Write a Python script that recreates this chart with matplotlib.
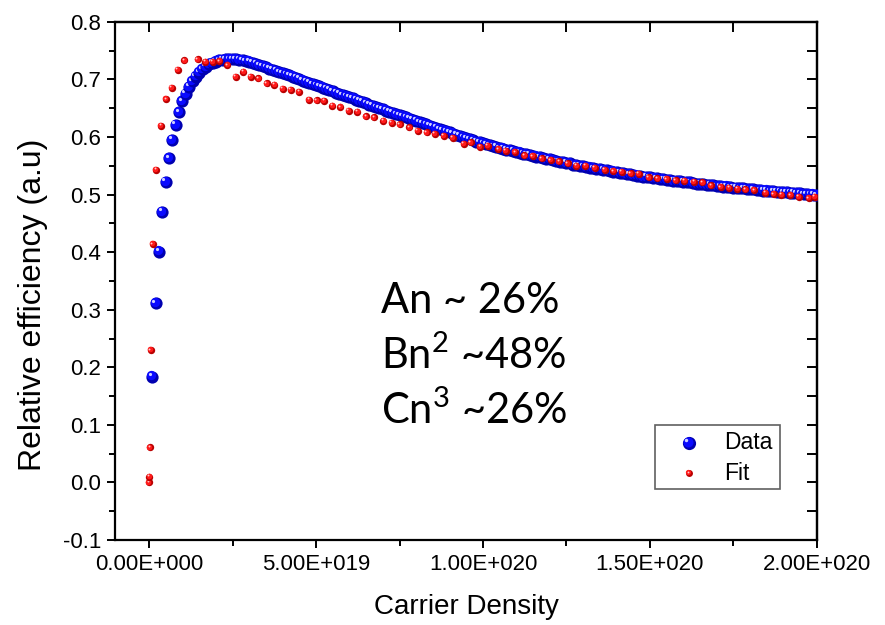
import numpy as np
import matplotlib
matplotlib.use("Agg")
import matplotlib.pyplot as plt
from matplotlib.ticker import FixedLocator, FixedFormatter, MultipleLocator, NullFormatter
from matplotlib.transforms import offset_copy
from matplotlib.patches import Rectangle

plt.rcParams["font.family"] = ["Liberation Sans", "DejaVu Sans"]
plt.rcParams["axes.unicode_minus"] = False
plt.rcParams["mathtext.fontset"] = "custom"
plt.rcParams["mathtext.rm"] = "Lato"
plt.rcParams["mathtext.default"] = "regular"

# measured efficiency, sampled every 1e18 cm^-3 from 1e18 to 2e20
data_x = np.arange(1, 201) * 1e18
data_y = [
    0.184, 0.311, 0.401, 0.470, 0.522, 0.563, 0.595, 0.621, 0.643, 0.662,
    0.675, 0.687, 0.697, 0.705, 0.712, 0.718, 0.722, 0.726, 0.729, 0.731,
    0.733, 0.734, 0.735, 0.735, 0.735, 0.735, 0.734, 0.733, 0.732, 0.731,
    0.729, 0.727, 0.725, 0.723, 0.721, 0.719, 0.717, 0.715, 0.713, 0.711,
    0.709, 0.707, 0.705, 0.703, 0.701, 0.698, 0.696, 0.694, 0.692, 0.690,
    0.688, 0.686, 0.684, 0.682, 0.680, 0.677, 0.675, 0.673, 0.671, 0.669,
    0.667, 0.665, 0.663, 0.661, 0.659, 0.656, 0.654, 0.652, 0.650, 0.648,
    0.646, 0.644, 0.642, 0.640, 0.638, 0.636, 0.634, 0.632, 0.630, 0.628,
    0.626, 0.624, 0.622, 0.620, 0.618, 0.616, 0.614, 0.612, 0.610, 0.608,
    0.606, 0.604, 0.602, 0.600, 0.598, 0.596, 0.594, 0.592, 0.591, 0.589,
    0.587, 0.586, 0.584, 0.583, 0.581, 0.580, 0.578, 0.577, 0.576, 0.574,
    0.573, 0.571, 0.570, 0.569, 0.567, 0.566, 0.565, 0.563, 0.562, 0.561,
    0.560, 0.558, 0.557, 0.556, 0.555, 0.554, 0.552, 0.551, 0.550, 0.549,
    0.548, 0.547, 0.546, 0.545, 0.544, 0.543, 0.542, 0.541, 0.540, 0.539,
    0.538, 0.537, 0.536, 0.535, 0.534, 0.533, 0.532, 0.531, 0.531, 0.530,
    0.529, 0.528, 0.527, 0.527, 0.526, 0.525, 0.524, 0.524, 0.523, 0.522,
    0.521, 0.521, 0.520, 0.519, 0.519, 0.518, 0.517, 0.517, 0.516, 0.515,
    0.515, 0.514, 0.514, 0.513, 0.512, 0.512, 0.511, 0.511, 0.510, 0.509,
    0.509, 0.508, 0.508, 0.507, 0.507, 0.506, 0.506, 0.505, 0.505, 0.504,
    0.504, 0.503, 0.503, 0.502, 0.502, 0.501, 0.501, 0.500, 0.500, 0.499,
]

# ABC model fit, density in units of 1e19
fit_x = [
    0.00, 0.01, 0.03, 0.05, 0.11, 0.21, 0.36, 0.51, 0.68, 0.86,
    1.06, 1.46, 1.68, 1.90, 2.10, 2.34, 2.60, 2.82, 3.05, 3.27,
    3.52, 3.75, 4.00, 4.24, 4.49, 4.79, 5.02, 5.24, 5.49, 5.73,
    5.98, 6.24, 6.50, 6.74, 7.02, 7.27, 7.51, 7.79, 8.04, 8.31,
    8.56, 8.83, 9.09, 9.43, 9.63, 9.91, 10.14, 10.46, 10.68, 10.96,
    11.24, 11.49, 11.76, 12.03, 12.28, 12.54, 12.80, 13.07, 13.35, 13.65,
    13.90, 14.15, 14.42, 14.67, 14.97, 15.22, 15.50, 15.78, 16.03, 16.32,
    16.57, 16.83, 17.12, 17.37, 17.62, 17.86, 18.12, 18.46, 18.71, 18.94,
    19.21, 19.46, 19.76, 19.94,
]
fit_y = [
    0.000, 0.010, 0.061, 0.230, 0.414, 0.543, 0.620, 0.666, 0.686, 0.717,
    0.733, 0.735, 0.731, 0.731, 0.732, 0.725, 0.705, 0.713, 0.705, 0.702,
    0.693, 0.691, 0.684, 0.682, 0.679, 0.665, 0.664, 0.663, 0.654, 0.652,
    0.646, 0.644, 0.636, 0.634, 0.628, 0.625, 0.622, 0.617, 0.611, 0.608,
    0.606, 0.602, 0.599, 0.588, 0.591, 0.583, 0.585, 0.579, 0.576, 0.574,
    0.568, 0.567, 0.563, 0.560, 0.558, 0.554, 0.550, 0.550, 0.547, 0.543,
    0.541, 0.540, 0.537, 0.536, 0.530, 0.528, 0.527, 0.525, 0.524, 0.522,
    0.521, 0.516, 0.513, 0.512, 0.510, 0.509, 0.508, 0.503, 0.501, 0.500,
    0.499, 0.496, 0.494, 0.496,
]

x_ticks = [0, 5e19, 1e20, 1.5e20, 2e20]
x_tick_labels = ["0.00E+000", "5.00E+019", "1.00E+020", "1.50E+020", "2.00E+020"]
y_ticks = [-0.1, 0.0, 0.1, 0.2, 0.3, 0.4, 0.5, 0.6, 0.7, 0.8]

notes = ["An ~ 26%", "Bn$^{2}$ ~48%", "Cn$^{3}$ ~26%"]

BLUE = ("#0000b0", "#0a0aff", "#d0d0ff")
RED = ("#b80000", "#ff1a1a", "#ffc8c8")


def spheres(ax, xs, ys, diam, shades, base_tf, clip=True, z=3):
    """Shaded balls: dark disc, brighter core shifted up-left, small glint."""
    fig = ax.figure
    dark, mid, light = shades
    core_tf = offset_copy(base_tf, fig=fig, x=-0.09 * diam, y=0.09 * diam, units="points")
    glint_tf = offset_copy(base_tf, fig=fig, x=-0.2 * diam, y=0.2 * diam, units="points")
    for x, y in zip(xs, ys):
        ax.scatter([x], [y], s=diam ** 2, color=dark, linewidths=0,
                   transform=base_tf, zorder=z, clip_on=clip)
        ax.scatter([x], [y], s=(0.76 * diam) ** 2, color=mid, linewidths=0,
                   transform=core_tf, zorder=z, clip_on=clip)
        ax.scatter([x], [y], s=(0.26 * diam) ** 2, color=light, linewidths=0,
                   transform=glint_tf, zorder=z, clip_on=clip)


fig = plt.figure(figsize=(8.85, 6.25), dpi=100)
ax = fig.add_axes([0.130, 0.136, 0.793, 0.829])

spheres(ax, data_x, data_y, 8.8, BLUE, ax.transData)
spheres(ax, [v * 1e19 for v in fit_x], fit_y, 5.3, RED, ax.transData)

ax.set_xlim(-1.02e19, 2e20)
ax.set_ylim(-0.1, 0.8)

ax.xaxis.set_major_locator(FixedLocator(x_ticks))
ax.xaxis.set_major_formatter(FixedFormatter(x_tick_labels))
ax.xaxis.set_minor_locator(MultipleLocator(2.5e19))
ax.yaxis.set_major_locator(FixedLocator(y_ticks))
ax.yaxis.set_major_formatter(FixedFormatter([f"{v:.1f}" for v in y_ticks]))
ax.yaxis.set_minor_locator(MultipleLocator(0.05))

for sp in ax.spines.values():
    sp.set_linewidth(1.6)
ax.tick_params(which="both", direction="out", width=1.4, labelsize=16, pad=4,
               top=False, right=False)
ax.tick_params(which="major", length=6)
ax.tick_params(which="minor", length=4)

# inward ticks along the top and right edges
top = ax.secondary_xaxis("top")
top.xaxis.set_major_locator(FixedLocator(x_ticks))
top.xaxis.set_minor_locator(MultipleLocator(2.5e19))
top.xaxis.set_major_formatter(NullFormatter())
top.tick_params(which="both", direction="in", width=1.4, length=7)
top.spines["top"].set_linewidth(1.6)
right = ax.secondary_yaxis("right")
right.yaxis.set_major_locator(FixedLocator(y_ticks))
right.yaxis.set_minor_locator(MultipleLocator(0.05))
right.yaxis.set_major_formatter(NullFormatter())
right.tick_params(which="both", direction="in", width=1.4, length=7)
right.spines["right"].set_linewidth(1.6)

ax.set_xlabel("Carrier Density", fontsize=20, labelpad=14)
fig.text(0.0373, 0.512, "Relative efficiency (a.u)", fontsize=23, rotation=90,
         ha="center", va="center")

for txt, yb in zip(notes, [0.4992, 0.4096, 0.3216]):
    fig.text(0.4305, yb, txt, fontsize=30, family=["Lato", "DejaVu Sans"],
             va="baseline", ha="left")

# legend drawn on a full-figure overlay
leg_ax = fig.add_axes([0, 0, 1, 1], facecolor="none")
leg_ax.set_axis_off()
leg_ax.set_xlim(0, 1)
leg_ax.set_ylim(0, 1)
leg_ax.add_patch(Rectangle((0.740, 0.2176), 0.1412, 0.1024, facecolor="white",
                           edgecolor="#606060", linewidth=1.2, zorder=1))
spheres(leg_ax, [0.7785], [0.2917], 9.5, BLUE, leg_ax.transAxes, clip=False, z=3)
spheres(leg_ax, [0.7785], [0.2432], 5.0, RED, leg_ax.transAxes, clip=False, z=3)
leg_ax.text(0.818, 0.2917, "Data", fontsize=16.5, va="center", ha="left", zorder=4)
leg_ax.text(0.818, 0.2432, "Fit", fontsize=16.5, va="center", ha="left", zorder=4)

fig.savefig("out.png", dpi=100)
